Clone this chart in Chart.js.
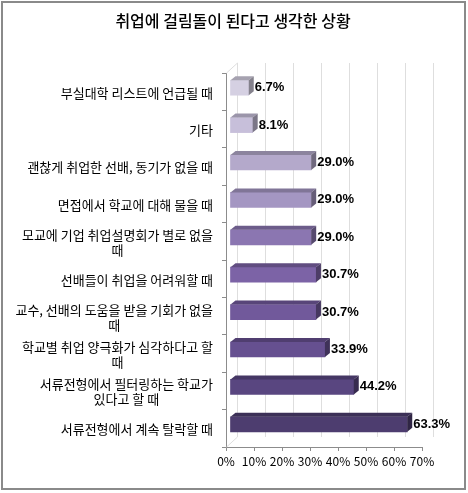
<!DOCTYPE html>
<html>
<head>
<meta charset="utf-8">
<script src="https://cdn.jsdelivr.net/npm/chart.js@4/dist/chart.umd.min.js"></script>
<style>
  html, body { margin: 0; padding: 0; background: #fff; }
  #wrap { width: 468px; height: 493px; }
</style>
</head>
<body>
<div id="wrap"><canvas id="chart" width="468" height="493"></canvas></div>
<script>
const title = '취업에 걸림돌이 된다고 생각한 상황';

const categories = [
  ['부실대학 리스트에 언급될 때'],
  ['기타'],
  ['괜찮게 취업한 선배, 동기가 없을 때'],
  ['면접에서 학교에 대해 물을 때'],
  ['모교에 기업 취업설명회가 별로 없을', '때'],
  ['선배들이 취업을 어려워할 때'],
  ['교수, 선배의 도움을 받을 기회가 없을', '때'],
  ['학교별 취업 양극화가 심각하다고 할', '때'],
  ['서류전형에서 필터링하는 학교가', '있다고 할 때'],
  ['서류전형에서 계속 탈락할 때']
];

const values = [6.7, 8.1, 29.0, 29.0, 29.0, 30.7, 30.7, 33.9, 44.2, 63.3];

const barColors = ['#d5d0e2', '#c7bfda', '#b4a9cb', '#a496c2', '#8b76b1',
                   '#7c63a6', '#71599b', '#665090', '#594680', '#4d3d6f'];

const xTicks = [0, 10, 20, 30, 40, 50, 60, 70];

const FONT = '"Noto Sans CJK KR", "Noto Sans", sans-serif';

// darken a hex colour by factor f
function shade(hex, f) {
  const n = parseInt(hex.slice(1), 16);
  const r = Math.round(((n >> 16) & 255) * f);
  const g = Math.round(((n >> 8) & 255) * f);
  const b = Math.round((n & 255) * f);
  return `rgb(${r},${g},${b})`;
}

// pseudo 3D: back wall, bar offset, bar top/side faces, value labels
const depth3d = {
  id: 'depth3d',
  beforeDatasetsDraw(chart) {
    const { ctx, chartArea: a, scales: { x } } = chart;
    const dx = 11, dy = -10;
    ctx.save();
    ctx.strokeStyle = '#dedede';
    ctx.lineWidth = 1;
    ctx.beginPath();
    xTicks.forEach(v => {
      const px = Math.round(x.getPixelForValue(v) + dx) + 0.5;
      ctx.moveTo(px, a.top + dy);
      ctx.lineTo(px, a.bottom + dy);
    });
    ctx.moveTo(a.left + 0.5, a.top);
    ctx.lineTo(a.left + dx + 0.5, a.top + dy);
    ctx.moveTo(a.left + 0.5, a.bottom);
    ctx.lineTo(a.left + dx + 0.5, a.bottom + dy);
    ctx.stroke();
    ctx.restore();

    ctx.save();
    ctx.translate(4, -4);
  },
  afterDatasetsDraw(chart) {
    const { ctx } = chart;
    const meta = chart.getDatasetMeta(0);
    const d = 5, e = 4;
    meta.data.forEach((bar, i) => {
      const top = bar.y - bar.height / 2;
      const bot = bar.y + bar.height / 2;
      const x0 = bar.base, x1 = bar.x;
      ctx.fillStyle = shade(barColors[i], 0.78);
      ctx.beginPath();
      ctx.moveTo(x0, top);
      ctx.lineTo(x0 + d, top - e);
      ctx.lineTo(x1 + d, top - e);
      ctx.lineTo(x1, top);
      ctx.closePath();
      ctx.fill();
      ctx.fillStyle = shade(barColors[i], 0.62);
      ctx.beginPath();
      ctx.moveTo(x1, top);
      ctx.lineTo(x1 + d, top - e);
      ctx.lineTo(x1 + d, bot - e);
      ctx.lineTo(x1, bot);
      ctx.closePath();
      ctx.fill();

      ctx.fillStyle = '#000';
      ctx.font = 'bold 13px "Liberation Sans", Arial, sans-serif';
      ctx.textAlign = 'left';
      ctx.textBaseline = 'middle';
      ctx.fillText(values[i].toFixed(1) + '%', x1 + 6, bar.y);
    });
    ctx.restore();
  },
  afterDraw(chart) {
    const { ctx, scales: { y } } = chart;
    ctx.save();
    // title, centred on the whole frame
    ctx.font = '500 16px ' + FONT;
    ctx.fillStyle = '#000';
    ctx.textAlign = 'center';
    ctx.textBaseline = 'middle';
    ctx.fillText(title, 233, 21);
    // category labels: block right aligned, lines centred within the block
    ctx.font = '13px ' + FONT;
    const right = 213, lh = 15;
    categories.forEach((lines, i) => {
      const w = Math.max(...lines.map(t => ctx.measureText(t).width));
      const cx = right - w / 2;
      const cy = y.getPixelForValue(i);
      lines.forEach((t, j) => {
        ctx.fillText(t, cx, cy + (j - (lines.length - 1) / 2) * lh + 1);
      });
    });
    // outer frame
    ctx.strokeStyle = '#8a8a8a';
    ctx.lineWidth = 2;
    ctx.strokeRect(2, 2, 463, 487);
    ctx.restore();
  }
};

new Chart(document.getElementById('chart'), {
  type: 'bar',
  data: {
    labels: categories,
    datasets: [{
      data: values,
      backgroundColor: barColors,
      borderWidth: 0,
      barThickness: 15
    }]
  },
  options: {
    indexAxis: 'y',
    responsive: false,
    animation: false,
    devicePixelRatio: 1,
    layout: { padding: { left: 0, right: 46, top: 73, bottom: 0 } },
    plugins: {
      legend: { display: false },
      tooltip: { enabled: false },
      title: { display: false }
    },
    scales: {
      x: {
        min: 0,
        max: 70,
        afterBuildTicks: s => { s.ticks = xTicks.map(v => ({ value: v })); },
        afterFit: s => { s.height = 46; },
        border: { color: '#8c8c8c' },
        grid: { drawOnChartArea: false, tickLength: 4, color: '#8c8c8c' },
        ticks: {
          color: '#000',
          padding: 3,
          maxRotation: 0,
          font: { family: FONT, size: 12 },
          callback: v => v + '%'
        }
      },
      y: {
        afterFit: s => { s.width = 226; },
        border: { color: '#8c8c8c' },
        grid: { drawOnChartArea: false, tickLength: 4, color: '#8c8c8c', offset: true },
        ticks: { display: false }
      }
    }
  },
  plugins: [depth3d]
});
</script>
</body>
</html>
